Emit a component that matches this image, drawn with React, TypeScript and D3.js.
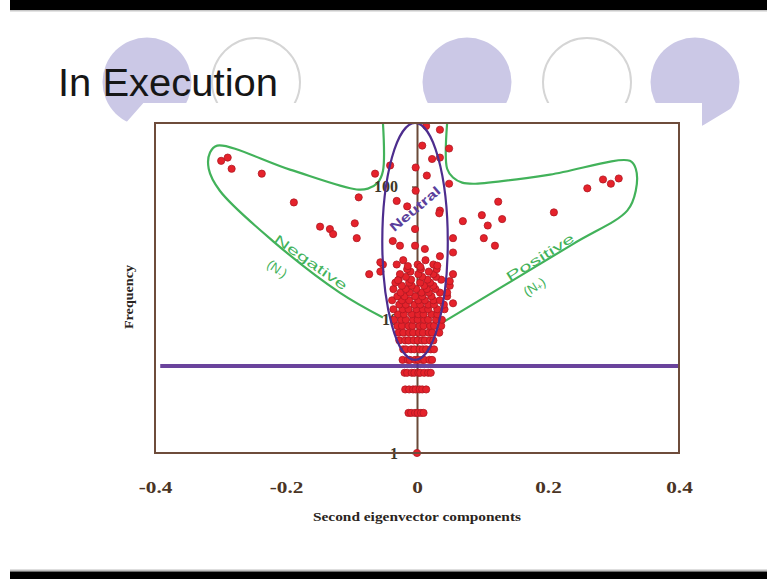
import React, { useEffect, useRef } from "react";
import * as d3 from "d3";

// axis ticks
const xTicks = [-0.4, -0.2, 0, 0.2, 0.4];
const yTicks = [1, 10, 100];

// low / mid frequencies: each level has a row of second-eigenvector components
const countLevels = [1, 2, 3, 4, 5, 6, 7, 8, 9, 10, 11, 12, 13, 14, 15, 16, 17, 18, 19, 20, 21, 22, 23, 24, 26, 28];
const componentsByLevel: number[][] = [
  [0.0],
  [-0.013, -0.009, -0.003, 0.001, 0.006, 0.01],
  [-0.018, -0.012, -0.006, -0.002, 0.004, 0.008, 0.014],
  [-0.019, -0.015, -0.008, -0.004, 0.002, 0.005, 0.011, 0.017, 0.021],
  [-0.022, -0.014, -0.011, -0.003, 0.002, 0.008, 0.011, 0.019, 0.023],
  [-0.021, -0.017, -0.009, -0.004, 0.004, 0.009, 0.014, 0.021, 0.026],
  [-0.027, -0.018, -0.013, -0.005, 0.001, 0.008, 0.012, 0.02, 0.025],
  [-0.028, -0.021, -0.012, -0.006, 0.003, 0.009, 0.018, 0.023, 0.034],
  [-0.03, -0.023, -0.013, -0.007, 0.004, 0.01, 0.02, 0.026, 0.037],
  [-0.035, -0.024, -0.017, -0.006, 0.001, 0.011, 0.017, 0.029, 0.038],
  [-0.029, -0.02, -0.008, 0.002, 0.01, 0.022, 0.031],
  [-0.036, -0.022, -0.013, -0.001, 0.009, 0.017, 0.031, 0.042],
  [-0.027, -0.017, -0.004, 0.005, 0.017, 0.026, 0.041],
  [-0.038, -0.023, -0.012, 0.002, 0.012, 0.025, 0.035],
  [-0.03, -0.019, -0.003, 0.008, 0.022, 0.046],
  [-0.025, -0.011, 0.007, 0.018, 0.035],
  [-0.036, -0.017, -0.001, 0.015, 0.028],
  [-0.023, -0.008, 0.011, 0.025, 0.05],
  [-0.033, -0.012, 0.005, 0.02],
  [-0.028, -0.009, 0.016, 0.037],
  [-0.017, 0.008, 0.029],
  [-0.073, -0.026, 0.002, 0.025, 0.055],
  [-0.056, -0.01, 0.018],
  [-0.015, 0.006, 0.03],
  [-0.052, -0.031, 0.001, 0.025],
  [-0.021, 0.013],
];

// isolated points [component, frequency]
const scatteredPoints: [number, number][] = [
  [-0.299, 156], [-0.289, 165], [-0.283, 136], [-0.237, 125], [-0.188, 76],
  [-0.148, 50], [-0.133, 48], [-0.128, 44], [-0.095, 53], [-0.092, 41],
  [-0.089, 83], [-0.064, 125], [-0.056, 27], [-0.041, 144], [-0.031, 78],
  [-0.037, 39], [-0.026, 36], [0.284, 113], [0.296, 105], [0.308, 115],
  [0.26, 97], [0.209, 64], [0.124, 77], [0.099, 61], [0.07, 55],
  [0.108, 51], [0.13, 57], [0.102, 41], [0.119, 36], [0.055, 41],
  [0.055, 32], [0.055, 13.3], [0.049, 193], [0.049, 105], [0.035, 66],
  [0.035, 267], [0.014, 285], [0.008, 203], [0.023, 161], [0.035, 165],
  [-0.002, 139], [0.015, 121], [-0.015, 71], [-0.002, 93], [0.034, 63],
  [-0.003, 48], [-0.003, 36], [0.012, 34], [0.035, 30], [-0.014, 25.3],
  [0.005, 25], [0.031, 25.5], [-0.029, 19.8], [0.05, 19.5], [0.046, 16],
];

// hand drawn region outlines [component, frequency]
const negativeOutline: [number, number][] = [
  [-0.052, 300], [-0.052, 131], [-0.06, 107], [-0.075, 96.5], [-0.092, 95],
  [-0.194, 134], [-0.305, 203], [-0.316, 180], [-0.318, 136], [-0.301, 93],
  [-0.22, 39], [-0.118, 16], [-0.052, 10.4],
];
const positiveOutline: [number, number][] = [
  [0.046, 300], [0.046, 136], [0.055, 117], [0.069, 107], [0.089, 105],
  [0.203, 123], [0.325, 156], [0.334, 136], [0.334, 93], [0.321, 66],
  [0.238, 37], [0.04, 9.6],
];
const neutralComponent = [-0.053, 0.047];
const neutralFrequency = [5, 300];
const cutoffFrequency = 4.5;

const W = 767;
const H = 579;
const serif = "'Liberation Serif', 'DejaVu Serif', serif";
const sans = "'Liberation Sans', Arial, sans-serif";
const green = "#42b25a";
const purple = "#4d2d8e";

export default function App() {
  const svgRef = useRef<SVGSVGElement>(null);

  useEffect(() => {
    const svg = d3.select(svgRef.current);
    svg.selectAll("*").remove();

    // slide background + black bands
    svg.append("rect").attr("width", W).attr("height", H).attr("fill", "#fff");
    svg.append("rect").attr("x", 10).attr("y", 0).attr("width", W - 10).attr("height", 10).attr("fill", "#000");
    svg.append("rect").attr("x", 10).attr("y", 10).attr("width", W - 10).attr("height", 1.5).attr("fill", "#c8c8c8");
    svg.append("rect").attr("x", 10).attr("y", 569.5).attr("width", W - 10).attr("height", 2).attr("fill", "#bdbdbd");
    svg.append("rect").attr("x", 10).attr("y", 571.5).attr("width", W - 10).attr("height", 8).attr("fill", "#000");

    // decorative bubbles
    const defs = svg.append("defs");
    const bubbles = [
      { cx: 147, filled: true, tail: "95,100 124,125 146,100" },
      { cx: 256, filled: false, tail: "" },
      { cx: 467, filled: true, tail: "" },
      { cx: 587, filled: false, tail: "" },
      { cx: 695, filled: true, tail: "702,100 702,126 745,100" },
    ];
    bubbles.forEach((b, i) => {
      const cp = defs.append("clipPath").attr("id", `bub${i}`);
      cp.append("rect").attr("x", 0).attr("y", 0).attr("width", W).attr("height", 103);
      if (b.tail) cp.append("polygon").attr("points", b.tail);
      svg
        .append("circle")
        .attr("cx", b.cx)
        .attr("cy", 82)
        .attr("r", b.filled ? 44.5 : 44)
        .attr("fill", b.filled ? "#cbc8e6" : "none")
        .attr("stroke", b.filled ? "none" : "#d5d5d5")
        .attr("stroke-width", 2)
        .attr("clip-path", `url(#bub${i})`);
    });

    svg
      .append("text")
      .attr("x", 58)
      .attr("y", 96)
      .attr("font-family", sans)
      .attr("font-size", 38)
      .attr("textLength", 220)
      .attr("lengthAdjust", "spacingAndGlyphs")
      .attr("fill", "#161616")
      .text("In Execution");

    // scales
    const x = d3.scaleLinear().domain([-0.4, 0.4]).range([155, 679]);
    const y = d3.scaleLog().domain([1, 300]).range([453, 123]);

    const plot = svg.append("g");

    const outline = d3
      .line<[number, number]>()
      .x(d => x(d[0]))
      .y(d => y(d[1]))
      .curve(d3.curveCatmullRom.alpha(0.5));

    [negativeOutline, positiveOutline].forEach(o => {
      plot
        .append("path")
        .attr("d", outline(o))
        .attr("fill", "none")
        .attr("stroke", green)
        .attr("stroke-width", 2.2);
    });

    // y axis sits on component 0
    const yAxis = plot
      .append("g")
      .attr("transform", `translate(${x(0)},0)`)
      .call(
        d3.axisLeft(y).tickValues(yTicks).tickSize(5).tickSizeOuter(0).tickPadding(14).tickFormat(d3.format("d"))
      );
    yAxis.select(".domain").attr("stroke", "#6b4a38").attr("stroke-width", 2);
    yAxis.selectAll(".tick line").attr("stroke", "#6b4a38").attr("stroke-width", 1.5);
    yAxis
      .selectAll("text")
      .attr("font-family", serif)
      .attr("font-weight", "bold")
      .attr("font-size", 16)
      .attr("fill", "#3f3727");

    // points
    const points: [number, number][] = [];
    countLevels.forEach((lvl, i) => componentsByLevel[i].forEach(c => points.push([c, lvl])));
    scatteredPoints.forEach(p => points.push(p));
    plot
      .selectAll(".pt")
      .data(points)
      .join("circle")
      .attr("class", "pt")
      .attr("cx", d => x(d[0]))
      .attr("cy", d => y(d[1]))
      .attr("r", 3.6)
      .attr("fill", "#e5222b")
      .attr("stroke", "#b01822")
      .attr("stroke-width", 0.8);

    // neutral ellipse
    const cx = x((neutralComponent[0] + neutralComponent[1]) / 2);
    plot
      .append("ellipse")
      .attr("cx", cx)
      .attr("cy", (y(neutralFrequency[0]) + y(neutralFrequency[1])) / 2)
      .attr("rx", (x(neutralComponent[1]) - x(neutralComponent[0])) / 2)
      .attr("ry", (y(neutralFrequency[0]) - y(neutralFrequency[1])) / 2)
      .attr("fill", "none")
      .attr("stroke", purple)
      .attr("stroke-width", 2.2);

    // cut-off line
    plot
      .append("line")
      .attr("x1", x(-0.392))
      .attr("x2", x(0.4))
      .attr("y1", y(cutoffFrequency))
      .attr("y2", y(cutoffFrequency))
      .attr("stroke", "#5a2f92")
      .attr("stroke-width", 4)
      .attr("opacity", 0.9);

    // frame
    plot
      .append("rect")
      .attr("x", x(-0.4))
      .attr("y", y(300))
      .attr("width", x(0.4) - x(-0.4))
      .attr("height", y(1) - y(300))
      .attr("fill", "none")
      .attr("stroke", "#6e4c3b")
      .attr("stroke-width", 2);

    // x axis
    const xAxis = plot
      .append("g")
      .attr("transform", `translate(0,${y(1)})`)
      .call(
        d3
          .axisBottom(x)
          .tickValues(xTicks)
          .tickSize(0)
          .tickPadding(28)
          .tickFormat(d => (+d === 0 ? "0" : (+d).toFixed(1)))
      );
    xAxis.select(".domain").remove();
    xAxis
      .selectAll("text")
      .attr("font-family", serif)
      .attr("font-weight", "bold")
      .attr("font-size", 17)
      .attr("transform", "scale(1.25,1)")
      .attr("fill", "#4a3424");

    plot
      .append("text")
      .attr("x", x(0))
      .attr("y", 521)
      .attr("text-anchor", "middle")
      .attr("font-family", serif)
      .attr("font-weight", "bold")
      .attr("font-size", 11.5)
      .attr("textLength", 208)
      .attr("lengthAdjust", "spacingAndGlyphs")
      .attr("fill", "#2a2420")
      .text("Second eigenvector components");

    plot
      .append("text")
      .attr("transform", "translate(133,297) rotate(-90)")
      .attr("text-anchor", "middle")
      .attr("font-family", serif)
      .attr("font-weight", "bold")
      .attr("font-size", 11.5)
      .attr("textLength", 64)
      .attr("lengthAdjust", "spacingAndGlyphs")
      .attr("fill", "#2a2420")
      .text("Frequency");

    // region labels
    const label = (
      xv: number,
      fv: number,
      angle: number,
      len: number,
      color: string,
      main: string,
      sub?: string,
      weight = "normal"
    ) => {
      const t = plot
        .append("text")
        .attr("transform", `translate(${x(xv)},${y(fv)}) rotate(${angle})`)
        .attr("text-anchor", "middle")
        .attr("dominant-baseline", "central")
        .attr("font-family", sans)
        .attr("font-weight", weight)
        .attr("font-size", 13)
        .attr("fill", color);
      if (sub) {
        t.append("tspan").text(main);
        t.append("tspan").attr("font-size", 9).attr("dy", 3).text(sub);
        t.append("tspan").attr("dy", -3).text(")");
      } else {
        t.attr("textLength", len).attr("lengthAdjust", "spacingAndGlyphs").text(main);
      }
    };
    label(-0.162, 27, 35, 86, green, "Negative");
    label(-0.213, 24.3, 35, 0, green, "(N", "-");
    label(0.188, 29.4, -32, 78, green, "Positive");
    label(0.179, 17.8, -32, 0, green, "(N", "+");
    label(-0.003, 68, -40, 62, "#5b3f9c", "Neutral", undefined, "bold");
  }, []);

  return (
    <svg
      ref={svgRef}
      width={W}
      height={H}
      style={{ position: "absolute", left: 0, top: 0, display: "block" }}
    />
  );
}
